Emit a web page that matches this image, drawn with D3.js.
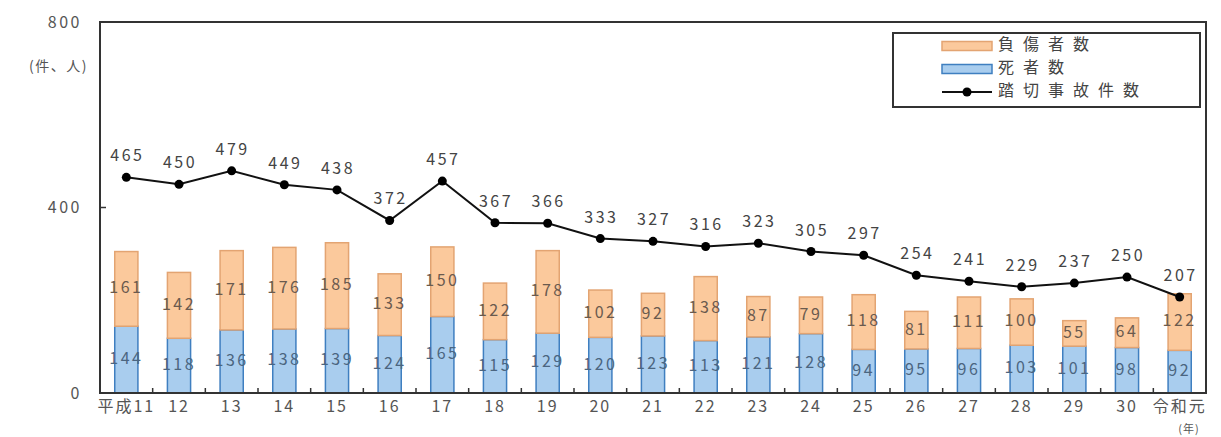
<!DOCTYPE html>
<html><head><meta charset="utf-8">
<script src="https://cdn.jsdelivr.net/npm/d3@7"></script>
<style>
body{margin:0;background:#fff;}
text{font-family:"Noto Sans CJK JP","Noto Sans",sans-serif;}
</style></head>
<body><svg id="c" width="1221" height="437"></svg>
<script>
const categories = ["平成11","12","13","14","15","16","17","18","19","20","21","22","23","24","25","26","27","28","29","30","令和元"];
const deaths   = [144,118,136,138,139,124,165,115,129,120,123,113,121,128,94,95,96,103,101,98,92];
const injuries = [161,142,171,176,185,133,150,122,178,102,92,138,87,79,118,81,111,100,55,64,122];
const accidents= [465,450,479,449,438,372,457,367,366,333,327,316,323,305,297,254,241,229,237,250,207];
const yTicks = [0,400,800];
const legendLabels = ["負傷者数","死者数","踏切事故件数"];

const svg = d3.select("#c");
const L=100,R=1206,T=22,B=393;
const x = d3.scaleBand().domain(categories).range([L,R]).paddingInner(0.56).paddingOuter(0.28);
const xb = d3.scaleBand().domain(categories).range([L,R]);
const y = d3.scaleLinear().domain([0,800]).range([B,T]);

const orangeFill="#fbc99c", orangeStroke="#e3a472", blueFill="#a9cdee", blueStroke="#3f7fc0";

// bars
const g = svg.append("g");
categories.forEach((c,i)=>{
  const x0 = x(c), w = x.bandwidth();
  g.append("rect").attr("x",x0).attr("y",y(deaths[i])).attr("width",w).attr("height",B-y(deaths[i]))
    .attr("fill",blueFill).attr("stroke",blueStroke).attr("stroke-width",1.5);
  g.append("rect").attr("x",x0).attr("y",y(deaths[i]+injuries[i])).attr("width",w).attr("height",y(deaths[i])-y(deaths[i]+injuries[i]))
    .attr("fill",orangeFill).attr("stroke",orangeStroke).attr("stroke-width",1.5);
  g.append("text").attr("x",x0+w/2).attr("y",y(deaths[i]/2)).attr("text-anchor","middle").attr("dominant-baseline","middle")
    .attr("font-size",16).attr("letter-spacing",2.5).attr("fill","#4b6580").text(deaths[i]);
  g.append("text").attr("x",x0+w/2).attr("y",y(deaths[i]+injuries[i]/2)).attr("text-anchor","middle").attr("dominant-baseline","middle")
    .attr("font-size",16).attr("letter-spacing",2.5).attr("fill","#6a5a4e").text(injuries[i]);
});

// line
const cx = c => xb(c)+xb.bandwidth()/2;
const line = d3.line().x((d,i)=>cx(categories[i])).y(d=>y(d));
svg.append("path").datum(accidents).attr("d",line).attr("fill","none").attr("stroke","#111").attr("stroke-width",2);
svg.selectAll(".pt").data(accidents).enter().append("circle")
  .attr("cx",(d,i)=>cx(categories[i])).attr("cy",d=>y(d)).attr("r",4.5).attr("fill","#000");
svg.selectAll(".lbl").data(accidents).enter().append("text")
  .attr("x",(d,i)=>cx(categories[i])+1).attr("y",d=>y(d)-16).attr("text-anchor","middle")
  .attr("font-size",16).attr("letter-spacing",2.5).attr("fill","#444").text(d=>d);

// frame
svg.append("rect").attr("x",L).attr("y",T).attr("width",R-L).attr("height",B-T).attr("fill","none").attr("stroke","#333").attr("stroke-width",2);

// y axis
const ya = d3.axisLeft(y).tickValues(yTicks).tickSize(0).tickPadding(18);
const yg = svg.append("g").attr("transform",`translate(${L},0)`).call(ya);
yg.select(".domain").remove();
yg.selectAll("text").attr("font-size",16).attr("letter-spacing",2.5).attr("fill","#555")
  .style("font-family",'"Noto Sans CJK JP",sans-serif');
yTicks.forEach(v=>{ svg.append("line").attr("x1",L).attr("x2",L+6).attr("y1",y(v)).attr("y2",y(v)).attr("stroke","#333").attr("stroke-width",1.5); });
svg.append("text").attr("x",88).attr("y",71).attr("text-anchor","end").attr("font-size",14).attr("letter-spacing",1.5).attr("fill","#555").text("(件、人)");

// x axis
const xa = d3.axisBottom(xb).tickSize(0).tickPadding(8);
const xg = svg.append("g").attr("transform",`translate(0,${B})`).call(xa);
xg.select(".domain").remove();
xg.selectAll("text").attr("font-size",16).attr("letter-spacing",2).attr("fill","#555")
  .style("font-family",'"Noto Sans CJK JP",sans-serif');
categories.slice(1).forEach(c=>{ svg.append("line").attr("x1",xb(c)).attr("x2",xb(c)).attr("y1",B).attr("y2",B-5).attr("stroke","#333").attr("stroke-width",1.5); });
svg.append("text").attr("x",1189).attr("y",430).attr("text-anchor","middle").attr("dominant-baseline","middle").attr("font-size",11).attr("letter-spacing",1).attr("fill","#555").text("(年)");

// legend
const lg = svg.append("g");
lg.append("rect").attr("x",893).attr("y",33).attr("width",307).attr("height",74).attr("fill","#fff").attr("stroke","#333").attr("stroke-width",2);
const rows=[46,69,92];
lg.append("rect").attr("x",942).attr("y",rows[0]-4.5).attr("width",50).attr("height",9).attr("fill",orangeFill).attr("stroke",orangeStroke).attr("stroke-width",1.5);
lg.append("rect").attr("x",942).attr("y",rows[1]-4.5).attr("width",50).attr("height",9).attr("fill",blueFill).attr("stroke",blueStroke).attr("stroke-width",1.5);
lg.append("line").attr("x1",942).attr("x2",992).attr("y1",rows[2]).attr("y2",rows[2]).attr("stroke","#111").attr("stroke-width",2);
lg.append("circle").attr("cx",967).attr("cy",rows[2]).attr("r",4.5).attr("fill","#000");
legendLabels.forEach((t,i)=>{
  lg.append("text").attr("x",998).attr("y",rows[i]).attr("dominant-baseline","middle").attr("font-size",16).attr("letter-spacing",9).attr("fill","#444").text(t);
});
</script></body></html>
